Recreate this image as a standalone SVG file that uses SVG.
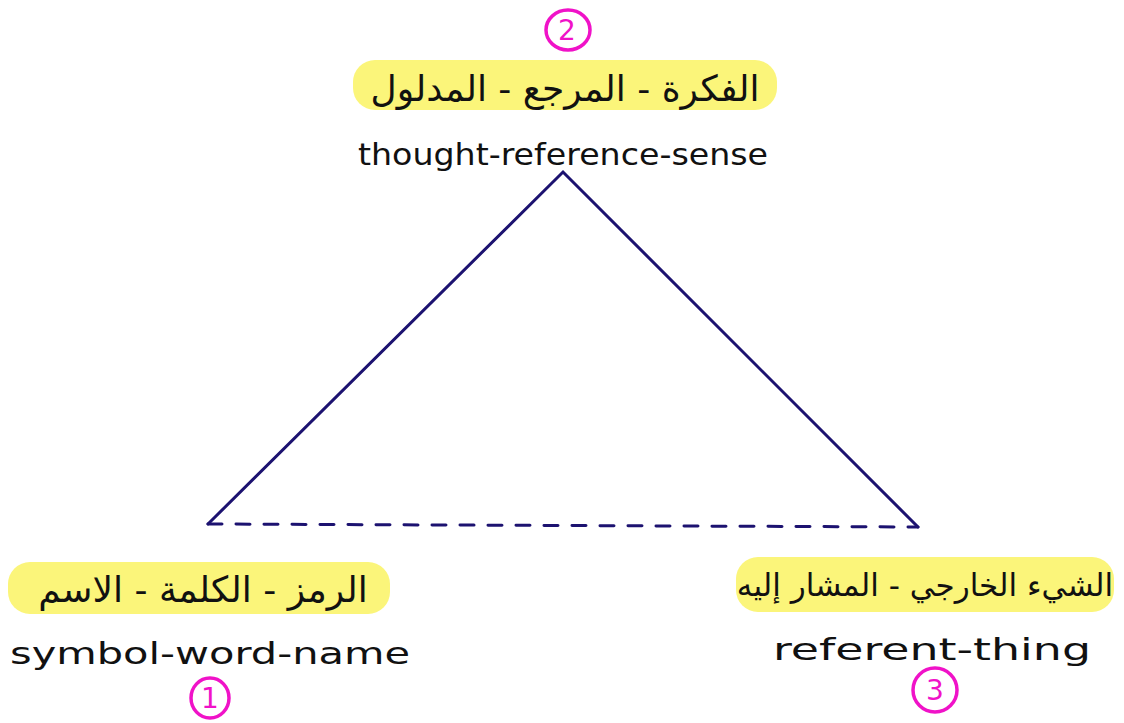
<svg xmlns="http://www.w3.org/2000/svg" width="1124" height="723" viewBox="0 0 1124 723">
<style>
.hl{fill:#fbf57a;}
.ar{font-family:"DejaVu Sans",sans-serif;font-size:36px;fill:#111;text-anchor:middle;direction:rtl;}
.en{font-family:"DejaVu Sans",sans-serif;font-size:30px;fill:#111;text-anchor:middle;}
.num{fill:none;stroke:#f012c8;stroke-width:3.5;}
.numt{font-family:"DejaVu Sans",sans-serif;font-size:28px;fill:#f012c8;text-anchor:middle;}
.edge{stroke:#1c1270;stroke-width:3;fill:none;stroke-linecap:round;}
</style>
<rect width="1124" height="723" fill="#fff"/>
<g id="connectors">
<polyline class="edge" points="208,524 563,172 918,527"/>
<line class="edge" x1="208" y1="524" x2="918" y2="527" stroke-dasharray="14,14"/>
</g>
<g id="node-thought">
<rect class="hl" x="353" y="60" width="424" height="50" rx="22"/>
<text class="ar" x="565" y="101">الفكرة - المرجع - المدلول</text>
<text class="en" x="563" y="165" textLength="410" lengthAdjust="spacingAndGlyphs">thought-reference-sense</text>
<ellipse class="num" cx="568" cy="30" rx="22" ry="20"/>
<text class="numt" x="567" y="40">2</text>
</g>
<g id="node-symbol">
<rect class="hl" x="8" y="562" width="382" height="52" rx="22"/>
<text class="ar" x="203" y="602">الرمز - الكلمة - الاسم</text>
<text class="en" x="210" y="664" textLength="400" lengthAdjust="spacingAndGlyphs">symbol-word-name</text>
<ellipse class="num" cx="210" cy="698" rx="19" ry="20"/>
<text class="numt" x="210" y="708">1</text>
</g>
<g id="node-referent">
<rect class="hl" x="736" y="557" width="378" height="55" rx="22"/>
<text class="ar" x="925" y="596" style="font-size:31px">الشيء الخارجي - المشار إليه</text>
<text class="en" x="932" y="660" textLength="318" lengthAdjust="spacingAndGlyphs">referent-thing</text>
<ellipse class="num" cx="935" cy="690" rx="22" ry="22"/>
<text class="numt" x="935" y="700">3</text>
</g>
</svg>
